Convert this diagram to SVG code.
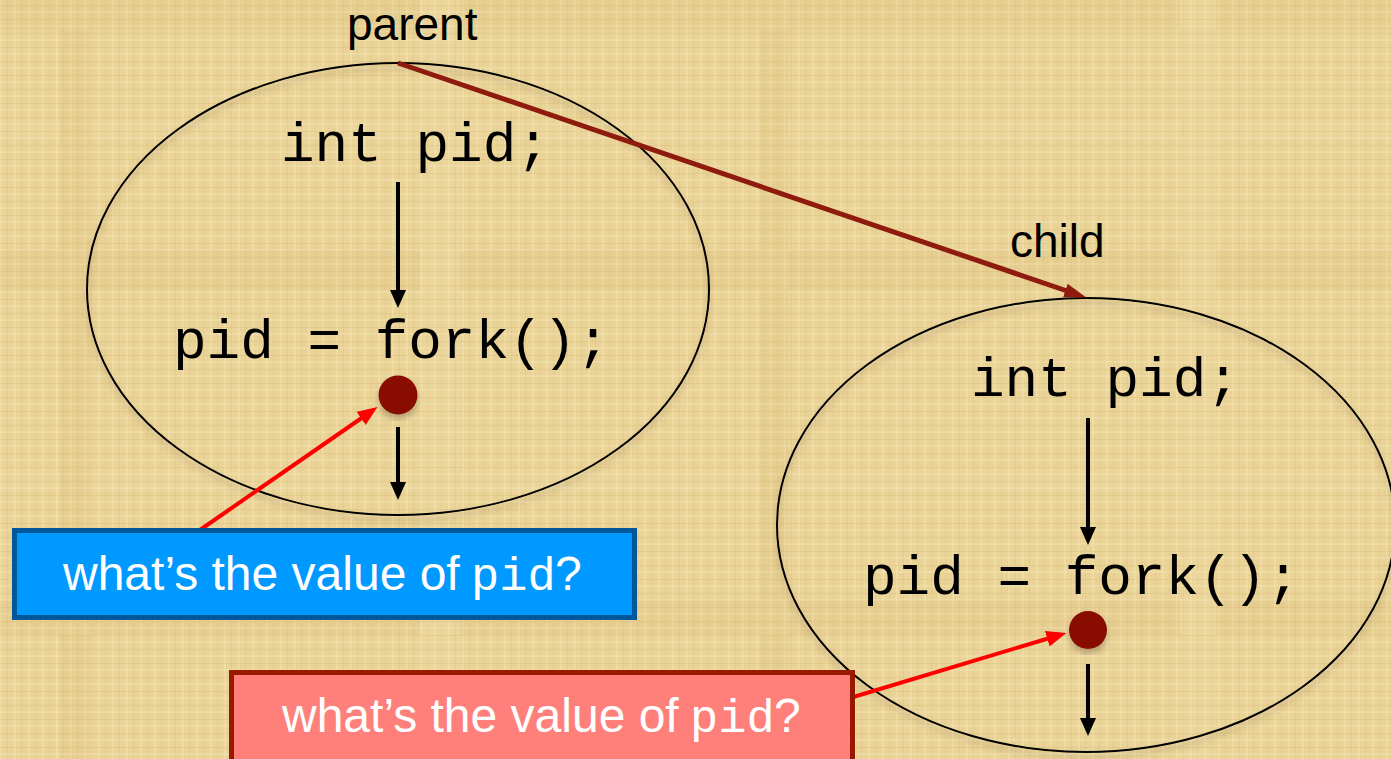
<svg xmlns="http://www.w3.org/2000/svg" width="1391" height="759" viewBox="0 0 1391 759">
  <defs>
    <pattern id="tex" width="14" height="14" patternUnits="userSpaceOnUse">
      <rect width="14" height="14" fill="#EAD396"/>
      <rect x="0" y="0" width="2" height="14" fill="#F3E2AE" opacity="0.55"/>
      <rect x="7" y="0" width="1" height="14" fill="#D9BC78" opacity="0.35"/>
      <rect x="0" y="5" width="14" height="1" fill="#D6B872" opacity="0.35"/>
      <rect x="0" y="11" width="14" height="2" fill="#F4E4B4" opacity="0.45"/>
    </pattern>
    <filter id="shadow" x="-10%" y="-10%" width="120%" height="125%">
      <feDropShadow dx="0" dy="5" stdDeviation="3" flood-color="#5a4a30" flood-opacity="0.35"/>
    </filter>
    <marker id="blackHead" markerUnits="userSpaceOnUse" markerWidth="20" markerHeight="18" refX="6" refY="8" orient="auto">
      <path d="M0,0 L18,8 L0,16 z" fill="#000"/>
    </marker>
    <marker id="maroonHead" markerUnits="userSpaceOnUse" markerWidth="24" markerHeight="16" refX="8" refY="7" orient="auto">
      <path d="M0,0 L22,7 L0,14 z" fill="#8E1B0E"/>
    </marker>
    <marker id="redHead" markerUnits="userSpaceOnUse" markerWidth="22" markerHeight="18" refX="6" refY="8" orient="auto">
      <path d="M0,0 L20,8 L0,16 z" fill="#FF0000"/>
    </marker>
    <style>
      .label { font-family: "Liberation Sans", Arial, sans-serif; font-size: 46px; fill: #000; }
      .code { font-family: "Liberation Mono", "Courier New", monospace; font-size: 56px; fill: #000; }
      .q { font-family: "Liberation Sans", Arial, sans-serif; font-size: 48px; fill: #fff; }
      .qm { font-family: "Liberation Mono", "Courier New", monospace; font-size: 47px; fill: #fff; }
      .proc { fill: none; stroke: #000; stroke-width: 2; }
      .dot { fill: #880E00; }
      .flow { stroke: #000; stroke-width: 4; fill: none; marker-end: url(#blackHead); }
      .ptr { stroke: #FF0000; stroke-width: 4; fill: none; marker-end: url(#redHead); }
      .forkline { stroke: #8E1B0E; stroke-width: 5; fill: none; marker-end: url(#maroonHead); }
    </style>
  </defs>

  <rect id="background" width="1391" height="759" fill="url(#tex)"/>
  <g id="bg-variation" opacity="0.09">
    <rect x="0" y="0" width="1391" height="30" fill="#C9A55A"/>
    <rect x="0" y="120" width="1391" height="18" fill="#F8EBC4"/>
    <rect x="0" y="250" width="1391" height="40" fill="#C9A55A"/>
    <rect x="0" y="470" width="1391" height="22" fill="#F8EBC4"/>
    <rect x="0" y="600" width="1391" height="35" fill="#C9A55A"/>
    <rect x="60" y="0" width="30" height="759" fill="#C9A55A"/>
    <rect x="420" y="0" width="40" height="759" fill="#F8EBC4"/>
    <rect x="760" y="0" width="28" height="759" fill="#C9A55A"/>
    <rect x="1180" y="0" width="36" height="759" fill="#F8EBC4"/>
  </g>

  <g id="parent">
    <text class="label" x="347" y="40">parent</text>
    <ellipse class="proc" cx="398" cy="289" rx="311" ry="226" filter="url(#shadow)"/>
    <text class="code" x="281" y="161">int pid;</text>
    <text class="code" x="173" y="358">pid = fork();</text>
    <circle class="dot" cx="398" cy="395" r="19.5" filter="url(#shadow)"/>
  </g>

  <g id="child">
    <text class="label" x="1010" y="257">child</text>
    <ellipse class="proc" cx="1086" cy="525" rx="309" ry="227" filter="url(#shadow)"/>
    <text class="code" x="971" y="396">int pid;</text>
    <text class="code" x="863" y="594">pid = fork();</text>
    <circle class="dot" cx="1088" cy="630" r="19" filter="url(#shadow)"/>
  </g>

  <g id="connectors">
    <line class="flow" x1="398" y1="182" x2="398" y2="296"/>
    <line class="flow" x1="398" y1="427" x2="398" y2="488"/>
    <line class="flow" x1="1088" y1="418" x2="1088" y2="533"/>
    <line class="flow" x1="1088" y1="664" x2="1088" y2="724"/>
    <line class="forkline" x1="398" y1="63" x2="1073" y2="293"/>
    <line class="ptr" x1="197" y1="532" x2="366" y2="415"/>
    <line class="ptr" x1="850" y1="698" x2="1053" y2="637"/>
  </g>

  <g id="question-parent">
    <rect x="14.5" y="530.5" width="620" height="87" fill="#0099FF" stroke="#00589A" stroke-width="5"/>
    <text class="q" x="63" y="590">what’s the value of</text>
    <text class="qm" x="471" y="590">pid</text>
    <text class="q" x="555" y="590">?</text>
  </g>

  <g id="question-child">
    <rect x="231.5" y="672.5" width="621" height="100" fill="#FF7F7B" stroke="#991900" stroke-width="5"/>
    <text class="q" x="282" y="732">what’s the value of</text>
    <text class="qm" x="690" y="732">pid</text>
    <text class="q" x="774" y="732">?</text>
  </g>
</svg>
